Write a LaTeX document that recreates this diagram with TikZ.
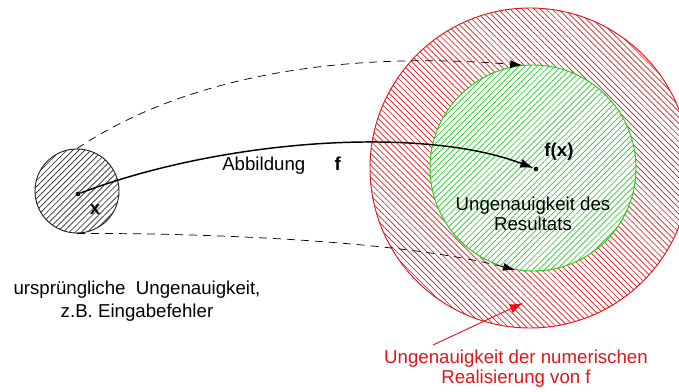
\documentclass[tikz,border=0pt]{standalone}
\usepackage{fontspec}
\setmainfont{Liberation Sans}
\usepackage{tikz}
\usetikzlibrary{patterns.meta,arrows.meta}

\definecolor{numred}{RGB}{225,20,25}
\definecolor{resgreen}{RGB}{30,205,30}

\tikzset{
	hatchdisk/.style={circle, inner sep=0pt, preaction={fill=white}, draw=#1, line width=0.7pt, pattern color=#1, pattern={Lines[angle=45,distance=3.2pt,line width=0.5pt]}},
	backhatch/.style={pattern={Lines[angle=-45,distance=3.2pt,line width=0.5pt]}},
	dotnode/.style={circle, fill=black, inner sep=0pt, minimum size=3.5pt},
	maparrow/.style={-{Latex[length=10pt,width=7pt]}, line width=1.1pt},
	guessarrow/.style={-{Latex[length=9pt,width=6pt]}, dash pattern=on 6pt off 4.5pt, line width=0.55pt},
	lab/.style={font=\fontsize{14}{15}\selectfont, inner sep=0pt, align=center}
}

\begin{document}
\begin{tikzpicture}[x=0.75pt, y=-0.75pt]
	\useasboundingbox (0,0) rectangle (679,392);
	\clip (0,0) rectangle (679,392);

	% Kreise
	\node[hatchdisk=numred, backhatch, minimum size=240pt] (numdisk) at (530,168) {};
	\node[hatchdisk=resgreen, minimum size=154.5pt] (resdisk) at (533,168) {};
	\node[hatchdisk=black!85, minimum size=63pt] (xdisk) at (77,191) {};

	\node[dotnode] (xdot) at (78,194) {};
	\node[dotnode] (fxdot) at (536,169) {};

	% Texte
	\node[lab, font=\fontsize{14}{15}\selectfont\bfseries] (labx) at (95,210) {x};
	\node[lab, font=\fontsize{14}{15}\selectfont\bfseries] (labfx) at (559,152) {f(x)};
	\node[lab, anchor=west] (labmap) at (222,166) {Abbildung\hspace{22pt}\textbf{f}};
	\node[lab] (labres) at (533,214) {Ungenauigkeit des\\Resultats};
	\node[lab] (labinput) at (137,301) {ursprüngliche\ \ Ungenauigkeit,\\[2pt]z.B. Eingabefehler};
	\node[lab, text=numred] (labnum) at (516,369) {Ungenauigkeit der numerischen\\Realisierung von f};

	% Pfeile
	\draw[maparrow] (xdot) .. controls (220,140) and (420,125) .. (fxdot);
	\draw[guessarrow] (xdisk.north) .. controls (180,80) and (330,50) .. (resdisk.96);
	\draw[guessarrow] (xdisk.south) .. controls (200,233) and (400,240) .. (resdisk.260);

	\coordinate (numtail) at (433,345);
	\coordinate (numtip) at (523,303);
	\draw[-{Latex[length=10pt,width=7pt]}, numred, line width=0.7pt] (numtail) -- (numtip);

\end{tikzpicture}
\end{document}
